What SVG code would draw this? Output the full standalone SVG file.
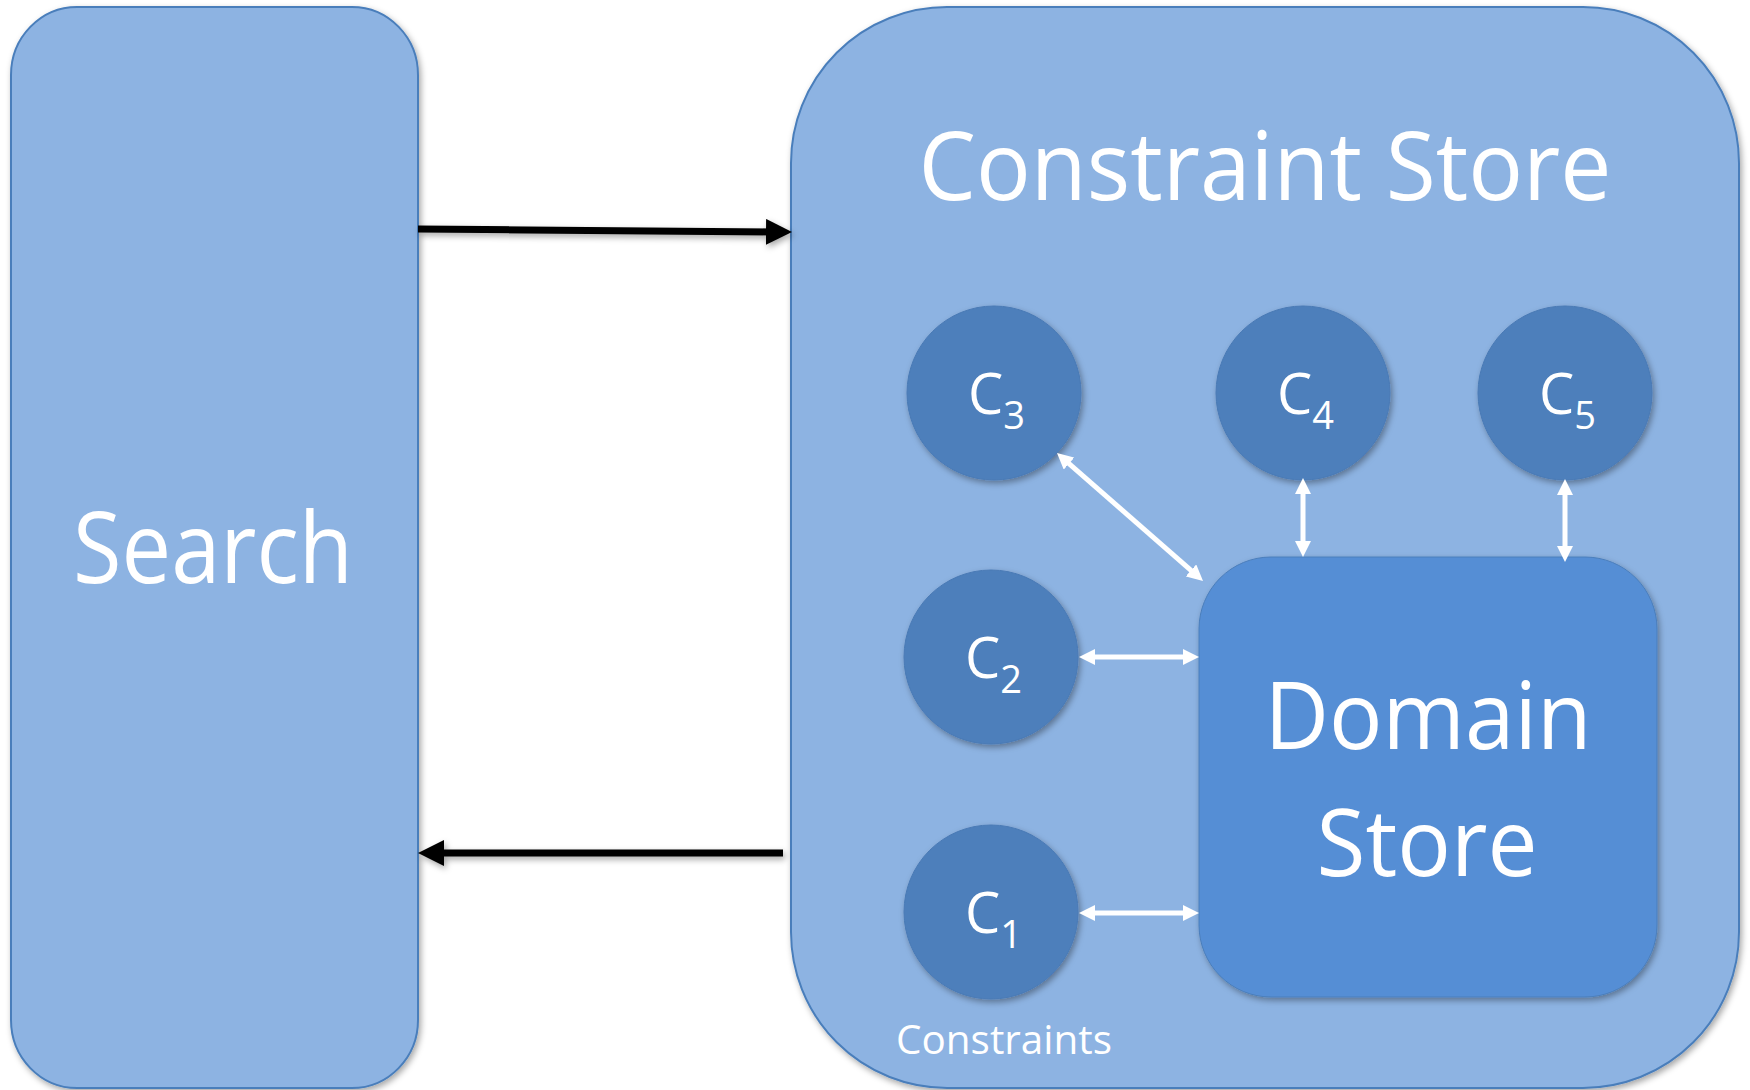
<svg xmlns="http://www.w3.org/2000/svg" width="1750" height="1090" viewBox="0 0 1750 1090">
<defs>
<style>
.box{fill:#8DB3E2;stroke:#4A7EBB;stroke-width:2}
.cir{fill:#4D7FBB;stroke:#4A7AB5;stroke-width:1}
.dom{fill:#558ED5;stroke:#4A7EBB;stroke-width:1}
.t{font-family:"Open Sans","Liberation Sans",sans-serif;fill:#FFFFFF}
.wl{stroke:#FFFFFF;stroke-width:5;fill:none}
.bl{stroke:#000000;stroke-width:7;fill:none}
</style>
<filter id="sh" x="-20%" y="-20%" width="140%" height="140%">
<feDropShadow dx="2" dy="3" stdDeviation="3" flood-color="#000" flood-opacity="0.35"/>
</filter>
<filter id="shu" filterUnits="userSpaceOnUse" x="0" y="0" width="1750" height="1090">
<feDropShadow dx="2" dy="3" stdDeviation="3" flood-color="#000" flood-opacity="0.35"/>
</filter>
<marker id="wa" markerUnits="userSpaceOnUse" markerWidth="16" markerHeight="16" refX="8" refY="8" orient="auto-start-reverse">
<path d="M0,0 L16,8 L0,16 z" fill="#FFFFFF"/>
</marker>
<marker id="ba" markerUnits="userSpaceOnUse" markerWidth="26" markerHeight="26" refX="12" refY="13" orient="auto">
<path d="M0,0 L26,13 L0,26 z" fill="#000000"/>
</marker>
</defs>
<g id="search">
<rect class="box" x="11" y="7" width="407" height="1081" rx="66" ry="68" filter="url(#sh)"/>
<text class="t" x="213" y="583" font-size="98" text-anchor="middle" textLength="280" lengthAdjust="spacingAndGlyphs">Search</text>
</g>
<g id="constraint-store">
<rect class="box" x="791" y="7" width="948" height="1081" rx="156" ry="156" filter="url(#sh)"/>
<text class="t" x="1265" y="200" font-size="95" text-anchor="middle" textLength="693" lengthAdjust="spacingAndGlyphs">Constraint Store</text>
<text class="t" x="1004" y="1054" font-size="40" text-anchor="middle" textLength="216" lengthAdjust="spacingAndGlyphs">Constraints</text>
</g>
<g id="c3">
<circle class="cir" cx="994" cy="393" r="87" filter="url(#sh)"/>
<text class="t" x="968" y="414" font-size="56">C<tspan dy="15" font-size="38">3</tspan></text>
</g>
<g id="c4">
<circle class="cir" cx="1303" cy="393" r="87" filter="url(#sh)"/>
<text class="t" x="1277" y="414" font-size="56">C<tspan dy="15" font-size="38">4</tspan></text>
</g>
<g id="c5">
<circle class="cir" cx="1565" cy="393" r="87" filter="url(#sh)"/>
<text class="t" x="1539" y="414" font-size="56">C<tspan dy="15" font-size="38">5</tspan></text>
</g>
<g id="c2">
<circle class="cir" cx="991" cy="657" r="87" filter="url(#sh)"/>
<text class="t" x="965" y="678" font-size="56">C<tspan dy="15" font-size="38">2</tspan></text>
</g>
<g id="c1">
<circle class="cir" cx="991" cy="912" r="87" filter="url(#sh)"/>
<text class="t" x="965" y="933" font-size="56">C<tspan dy="15" font-size="38">1</tspan></text>
</g>
<g id="domain-store">
<rect class="dom" x="1199" y="557" width="458" height="440" rx="72" ry="72" filter="url(#sh)"/>
<text class="t" x="1428" y="749" font-size="94" text-anchor="middle" textLength="327" lengthAdjust="spacingAndGlyphs">Domain</text>
<text class="t" x="1427" y="876" font-size="94" text-anchor="middle" textLength="221" lengthAdjust="spacingAndGlyphs">Store</text>
</g>
<g id="connectors">
<line class="bl" x1="418" y1="229" x2="778" y2="232" marker-end="url(#ba)" filter="url(#shu)"/>
<line class="bl" x1="783" y1="853" x2="432" y2="853" marker-end="url(#ba)" filter="url(#shu)"/>
<line class="wl" x1="1063" y1="458.3" x2="1197" y2="575.7" marker-start="url(#wa)" marker-end="url(#wa)"/>
<line class="wl" x1="1303" y1="486" x2="1303" y2="549" marker-start="url(#wa)" marker-end="url(#wa)"/>
<line class="wl" x1="1565" y1="487" x2="1565" y2="554" marker-start="url(#wa)" marker-end="url(#wa)"/>
<line class="wl" x1="1087" y1="657" x2="1191" y2="657" marker-start="url(#wa)" marker-end="url(#wa)"/>
<line class="wl" x1="1087" y1="913" x2="1191" y2="913" marker-start="url(#wa)" marker-end="url(#wa)"/>
</g>
</svg>
